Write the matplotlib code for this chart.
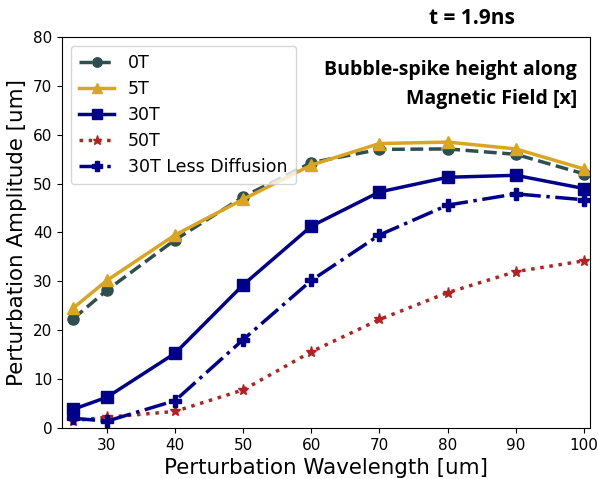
import matplotlib
matplotlib.use("Agg")
import matplotlib.pyplot as plt

wavelength = [25, 30, 40, 50, 60, 70, 80, 90, 100]
amp_0T = [22.3, 28.2, 38.5, 47.3, 54.3, 57.0, 57.1, 56.0, 52.0]
amp_5T = [24.5, 30.2, 39.5, 46.8, 53.8, 58.2, 58.5, 57.1, 53.0]
amp_30T = [3.8, 6.3, 15.3, 29.3, 41.3, 48.3, 51.3, 51.7, 49.0]
amp_50T = [1.5, 2.2, 3.4, 7.8, 15.6, 22.2, 27.7, 32.0, 34.2]
amp_30T_ld = [2.0, 1.4, 5.6, 18.1, 30.2, 39.5, 45.6, 47.9, 46.7]

fig = plt.figure(figsize=(5.98, 4.79), dpi=100)
ax = fig.add_axes([62/598, 1-428/479, (590-62)/598, (428-37)/479])

ax.plot(wavelength, amp_0T, '--o', color='#2F4F4F', lw=2.5, ms=8, label='0T')
ax.plot(wavelength, amp_5T, '-^', color='#DAA520', lw=2.5, ms=8, label='5T')
ax.plot(wavelength, amp_30T, '-s', color='#00008B', lw=2.5, ms=8, label='30T')
ax.plot(wavelength, amp_50T, ':*', color='#B22222', lw=2.5, ms=8, label='50T')
ax.plot(wavelength, amp_30T_ld, '-.P', color='#00008B', lw=2.5, ms=8, label='30T Less Diffusion')

ax.set_xlim(23.4, 100.9)
ax.set_ylim(0, 80)
ax.set_xticks([30, 40, 50, 60, 70, 80, 90, 100])
ax.set_yticks([0, 10, 20, 30, 40, 50, 60, 70, 80])
ax.tick_params(labelsize=11)
ax.set_xlabel('Perturbation Wavelength [um]', fontsize=15.4)
ax.set_ylabel('Perturbation Amplitude [um]', fontsize=15.4)
ax.legend(loc='upper left', fontsize=12.5, handlelength=2.0, borderpad=0.5,
          labelspacing=0.45, markerscale=0.85)

fig.text(472/598, 1-19/479, 't = 1.9ns', fontsize=15, fontweight='bold',
         family='Open Sans', ha='center', va='center')
ax.text(0.975, 0.94, 'Bubble-spike height along\nMagnetic Field [x]', transform=ax.transAxes,
        fontsize=14, fontweight='bold', family='Open Sans', ha='right', va='top',
        linespacing=1.55)

fig.savefig('out.png', dpi=100)
